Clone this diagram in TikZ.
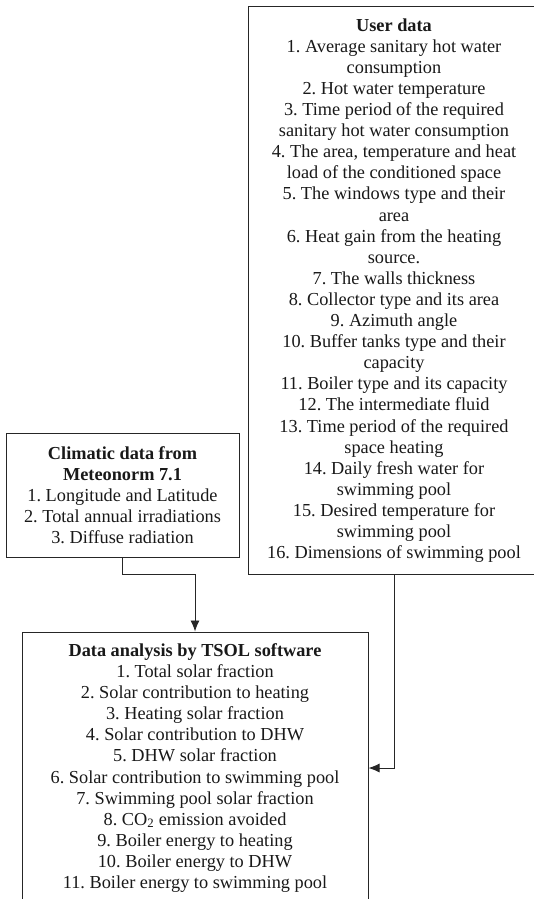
\documentclass[tikz,border=0pt]{standalone}
\usepackage{fontspec}
\setmainfont{Liberation Serif}
\usetikzlibrary{arrows.meta}
\begin{document}
\frenchspacing
\begin{tikzpicture}[x=1pt,y=-1pt,
  txt/.style={align=center, inner sep=0pt,
    font=\fontsize{18.3}{21.1}\selectfont, text=black!90},
  box/.style={txt, draw=black!85, line width=1pt},
  frame/.style={draw=black!85, line width=1pt},
  conn/.style={draw=black!85, line width=0.9pt},
  arr/.style={conn, -{Latex[length=11pt,width=9pt]}}]
\useasboundingbox[fill=white] (0,0) rectangle (533,899);
\node[txt, minimum width=290pt, minimum height=567pt] (user) at (394,290.5) {%
\textbf{User data}\\
1. Average sanitary hot water\\
consumption\\
2. Hot water temperature\\
3. Time period of the required\\
sanitary hot water consumption\\
4. The area, temperature and heat\\
load of the conditioned space\\
5. The windows type and their\\
area\\
6. Heat gain from the heating\\
source.\\
7. The walls thickness\\
8. Collector type and its area\\
9. Azimuth angle\\
10. Buffer tanks type and their\\
capacity\\
11. Boiler type and its capacity\\
12. The intermediate fluid\\
13. Time period of the required\\
space heating\\
14. Daily fresh water for\\
swimming pool\\
15. Desired temperature for\\
swimming pool\\
16. Dimensions of swimming pool};
\draw[frame] ([xshift=20pt]user.north east) -- (user.north west)
  -- (user.south west) -- ([xshift=20pt]user.south east);
\node[box, minimum width=233pt, minimum height=124pt] (clim) at (122.5,495) {%
\textbf{Climatic data from}\\
\textbf{Meteonorm 7.1}\\
1. Longitude and Latitude\\
2. Total annual irradiations\\
3. Diffuse radiation};
\node[box, minimum width=346pt, minimum height=272pt] (tsol) at (195,768) {%
\textbf{Data analysis by TSOL software}\\
1. Total solar fraction\\
2. Solar contribution to heating\\
3. Heating solar fraction\\
4. Solar contribution to DHW\\
5. DHW solar fraction\\
6. Solar contribution to swimming pool\\
7. Swimming pool solar fraction\\
8. CO\textsubscript{2} emission avoided\\
9. Boiler energy to heating\\
10. Boiler energy to DHW\\
11. Boiler energy to swimming pool};
\draw[arr] (clim.south) -- ++(0,17) -| (tsol.north);
\draw[arr] (user.south) |- (tsol.east);
\end{tikzpicture}
\end{document}
